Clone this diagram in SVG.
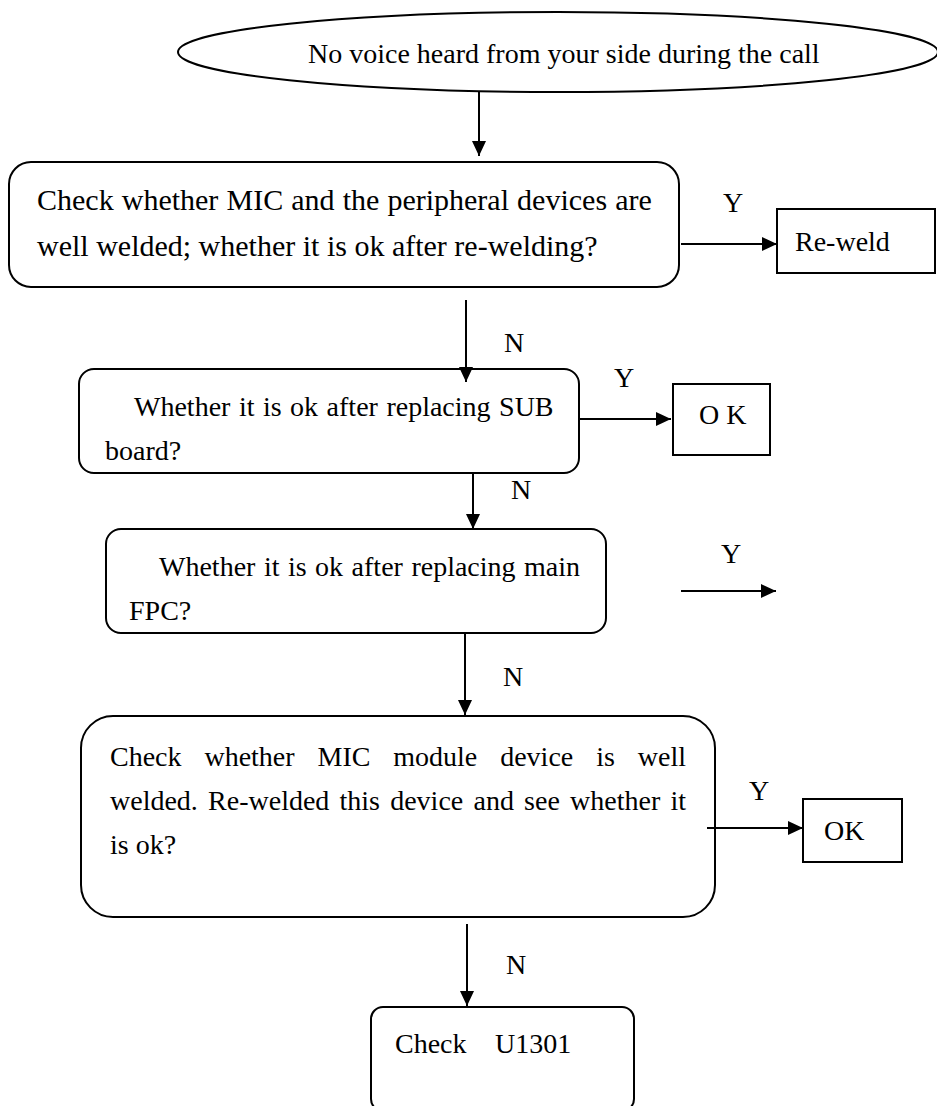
<svg xmlns="http://www.w3.org/2000/svg" width="937" height="1106" viewBox="0 0 937 1106">
  <style>
    text { font-family: "Liberation Serif", "Times New Roman", serif; font-size: 28px; fill: #000; }
    .big { font-size: 30px; }
    .shape { fill: #fff; stroke: #000; stroke-width: 2; }
    .flow { fill: none; stroke: #000; stroke-width: 2; }
  </style>
  <defs>
    <marker id="arrow" markerUnits="userSpaceOnUse" markerWidth="16" markerHeight="14" refX="15" refY="7" orient="auto">
      <path d="M0,0 L15,7 L0,14 z" fill="#000"/>
    </marker>
  </defs>

  <rect width="937" height="1106" fill="#fff"/>

  <!-- start: the symptom -->
  <g id="start">
    <ellipse class="shape" cx="558" cy="52" rx="380" ry="40" stroke-width="2.4"/>
    <text x="308" y="63">No voice heard from your side during the call</text>
  </g>

  <!-- step 1: MIC and peripherals welding -->
  <g id="check-mic-welding">
    <rect class="shape" x="9" y="162" width="670" height="125" rx="22"/>
    <text class="big" x="37" y="210" word-spacing="0.6">Check whether MIC and the peripheral devices are</text>
    <text class="big" x="37" y="256">well welded; whether it is ok after re-welding?</text>
  </g>

  <g id="reweld">
    <rect class="shape" x="777" y="209" width="158" height="64"/>
    <text x="795" y="251">Re-weld</text>
  </g>

  <!-- step 2: SUB board -->
  <g id="replace-sub">
    <rect class="shape" x="79" y="369" width="500" height="104" rx="15"/>
    <text x="134" y="416" word-spacing="1.5">Whether it is ok after replacing SUB</text>
    <text x="105" y="460">board?</text>
  </g>

  <g id="ok-sub">
    <rect class="shape" x="673" y="384" width="97" height="71"/>
    <text x="699" y="424" xml:space="preserve">O K</text>
  </g>

  <!-- step 3: main FPC -->
  <g id="replace-fpc">
    <rect class="shape" x="106" y="529" width="500" height="104" rx="15"/>
    <text x="159" y="576" word-spacing="1.5">Whether it is ok after replacing main</text>
    <text x="129" y="620">FPC?</text>
  </g>

  <!-- step 4: MIC module device -->
  <g id="check-mic-module">
    <rect class="shape" x="81" y="716" width="634" height="201" rx="32"/>
    <text x="110" y="766" word-spacing="15.9">Check whether MIC module device is well</text>
    <text x="110" y="810" word-spacing="3.2">welded. Re-welded this device and see whether it</text>
    <text x="110" y="854">is ok?</text>
  </g>

  <g id="ok-module">
    <rect class="shape" x="803" y="799" width="99" height="63"/>
    <text x="824" y="840">OK</text>
  </g>

  <!-- final: check U1301 -->
  <g id="check-u1301">
    <rect class="shape" x="371" y="1007" width="263" height="104" rx="12"/>
    <text x="395" y="1053">Check</text>
    <text x="495" y="1053">U1301</text>
  </g>

  <!-- connectors and branch labels -->
  <g id="connectors">
    <line class="flow" x1="479" y1="92" x2="479" y2="156" marker-end="url(#arrow)"/>

    <line class="flow" x1="681" y1="244" x2="777" y2="244" marker-end="url(#arrow)"/>
    <text x="723" y="212">Y</text>

    <line class="flow" x1="466" y1="300" x2="466" y2="382" marker-end="url(#arrow)"/>
    <text x="504" y="352">N</text>

    <line class="flow" x1="580" y1="419" x2="671" y2="419" marker-end="url(#arrow)"/>
    <text x="614" y="387">Y</text>

    <line class="flow" x1="473" y1="473" x2="473" y2="529" marker-end="url(#arrow)"/>
    <text x="511" y="499">N</text>

    <line class="flow" x1="681" y1="591" x2="776" y2="591" marker-end="url(#arrow)"/>
    <text x="721" y="563">Y</text>

    <line class="flow" x1="465" y1="633" x2="465" y2="715" marker-end="url(#arrow)"/>
    <text x="503" y="686">N</text>

    <line class="flow" x1="707" y1="828" x2="803" y2="828" marker-end="url(#arrow)"/>
    <text x="749" y="800">Y</text>

    <line class="flow" x1="467" y1="924" x2="467" y2="1006" marker-end="url(#arrow)"/>
    <text x="506" y="974">N</text>
  </g>
</svg>
